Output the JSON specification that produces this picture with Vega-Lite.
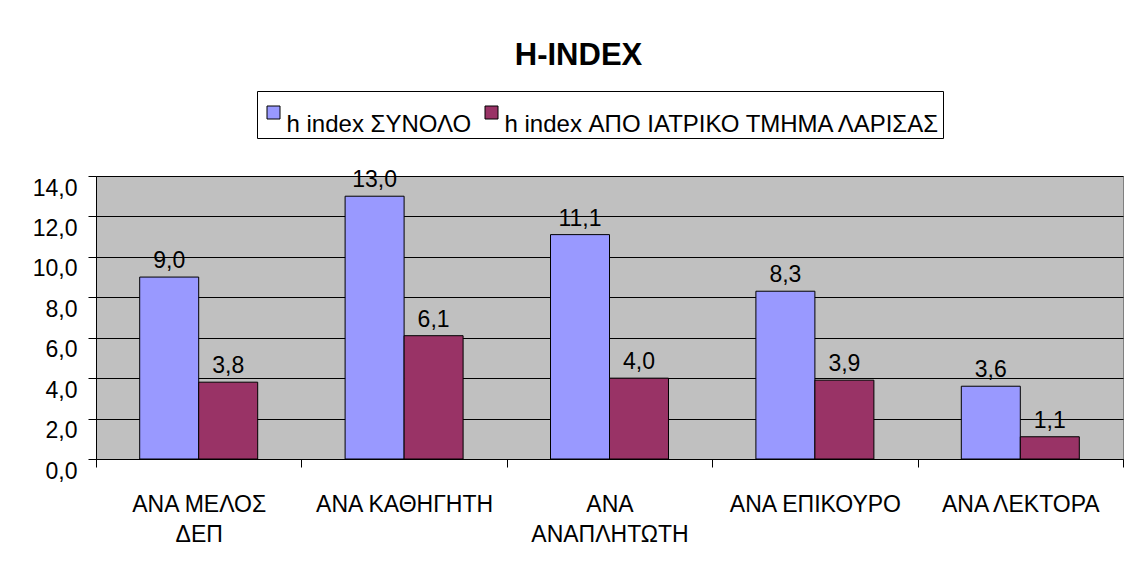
{
  "$schema": "https://vega.github.io/schema/vega-lite/v6.json",
  "width": 1027,
  "height": 283,
  "autosize": "none",
  "padding": {"left": 96, "top": 176, "right": 6, "bottom": 102},
  "background": "white",
  "config": {
    "locale": {"number": {"decimal": ",", "thousands": ".", "grouping": [3], "currency": ["", " €"]}},
    "font": "Liberation Sans",
    "view": {"fill": "#C0C0C0", "stroke": "#808080", "strokeWidth": 1}
  },
  "title": {
    "text": "H-INDEX",
    "fontSize": 31,
    "fontWeight": "bold",
    "font": "Liberation Sans",
    "color": "black",
    "anchor": "middle",
    "dx": -31,
    "dy": 23,
    "baseline": "alphabetic",
    "offset": 18
  },
  "data": {
    "values": [
      {"category": "ΑΝΑ ΜΕΛΟΣ ΔΕΠ", "series": "h index ΣΥΝΟΛΟ", "value": 9.0},
      {"category": "ΑΝΑ ΜΕΛΟΣ ΔΕΠ", "series": "h index ΑΠΟ ΙΑΤΡΙΚΟ ΤΜΗΜΑ ΛΑΡΙΣΑΣ", "value": 3.8},
      {"category": "ΑΝΑ ΚΑΘΗΓΗΤΗ", "series": "h index ΣΥΝΟΛΟ", "value": 13.0},
      {"category": "ΑΝΑ ΚΑΘΗΓΗΤΗ", "series": "h index ΑΠΟ ΙΑΤΡΙΚΟ ΤΜΗΜΑ ΛΑΡΙΣΑΣ", "value": 6.1},
      {"category": "ΑΝΑ ΑΝΑΠΛΗΤΩΤΗ", "series": "h index ΣΥΝΟΛΟ", "value": 11.1},
      {"category": "ΑΝΑ ΑΝΑΠΛΗΤΩΤΗ", "series": "h index ΑΠΟ ΙΑΤΡΙΚΟ ΤΜΗΜΑ ΛΑΡΙΣΑΣ", "value": 4.0},
      {"category": "ΑΝΑ ΕΠΙΚΟΥΡΟ", "series": "h index ΣΥΝΟΛΟ", "value": 8.3},
      {"category": "ΑΝΑ ΕΠΙΚΟΥΡΟ", "series": "h index ΑΠΟ ΙΑΤΡΙΚΟ ΤΜΗΜΑ ΛΑΡΙΣΑΣ", "value": 3.9},
      {"category": "ΑΝΑ ΛΕΚΤΟΡΑ", "series": "h index ΣΥΝΟΛΟ", "value": 3.6},
      {"category": "ΑΝΑ ΛΕΚΤΟΡΑ", "series": "h index ΑΠΟ ΙΑΤΡΙΚΟ ΤΜΗΜΑ ΛΑΡΙΣΑΣ", "value": 1.1}
    ]
  },
  "encoding": {
    "x": {
      "field": "category",
      "type": "nominal",
      "sort": null,
      "scale": {"paddingInner": 0, "paddingOuter": 0},
      "axis": {
        "title": null,
        "labelAngle": 0,
        "labelFont": "Liberation Sans",
        "labelFontSize": 23,
        "labelColor": "black",
        "labelBaseline": "top",
        "labelPadding": 26,
        "labelLineHeight": 30,
        "labelLimit": 0,
        "labelExpr": "datum.label == 'ΑΝΑ ΜΕΛΟΣ ΔΕΠ' ? ['ΑΝΑ ΜΕΛΟΣ', 'ΔΕΠ'] : datum.label == 'ΑΝΑ ΑΝΑΠΛΗΤΩΤΗ' ? ['ΑΝΑ', 'ΑΝΑΠΛΗΤΩΤΗ'] : datum.label",
        "tickBand": "extent",
        "tickSize": 8,
        "tickColor": "black",
        "domainColor": "black",
        "grid": false
      }
    },
    "xOffset": {
      "field": "series",
      "sort": ["h index ΣΥΝΟΛΟ", "h index ΑΠΟ ΙΑΤΡΙΚΟ ΤΜΗΜΑ ΛΑΡΙΣΑΣ"],
      "scale": {"paddingInner": 0, "paddingOuter": 0.7407}
    },
    "y": {
      "field": "value",
      "type": "quantitative",
      "scale": {"domain": [0, 14], "nice": false},
      "axis": {
        "title": null,
        "values": [0, 2, 4, 6, 8, 10, 12, 14],
        "format": ".1f",
        "labelFont": "Liberation Sans",
        "labelFontSize": 23,
        "labelColor": "black",
        "labelBaseline": "top",
        "labelOffset": 1,
        "labelPadding": 11,
        "labelFlush": false,
        "tickSize": 8,
        "tickColor": "black",
        "domainColor": "black",
        "grid": true,
        "gridColor": "black",
        "gridOpacity": 1,
        "gridWidth": 1
      }
    }
  },
  "layer": [
    {
      "mark": {"type": "bar", "stroke": "black", "strokeWidth": 1},
      "encoding": {
        "color": {
          "field": "series",
          "type": "nominal",
          "scale": {
            "domain": ["h index ΣΥΝΟΛΟ", "h index ΑΠΟ ΙΑΤΡΙΚΟ ΤΜΗΜΑ ΛΑΡΙΣΑΣ"],
            "range": ["#9999FF", "#993366"]
          },
          "legend": {
            "orient": "none",
            "legendX": 161,
            "legendY": -85,
            "direction": "horizontal",
            "title": null,
            "symbolType": "square",
            "symbolSize": 169,
            "symbolStrokeColor": "black",
            "symbolStrokeWidth": 1,
            "symbolOpacity": 1,
            "symbolOffset": 3,
            "clipHeight": 40,
            "labelFont": "Liberation Sans",
            "labelFontSize": 24,
            "labelColor": "black",
            "labelLimit": 0,
            "labelOffset": 1,
            "labelBaseline": "top",
            "columnPadding": 5,
            "padding": 1.5,
            "strokeColor": "black",
            "fillColor": "white",
            "cornerRadius": 0
          }
        }
      }
    },
    {
      "mark": {"type": "text", "baseline": "alphabetic", "dy": -9, "fontSize": 23, "color": "black", "font": "Liberation Sans"},
      "encoding": {
        "text": {"field": "value", "type": "quantitative", "format": ".1f"}
      }
    }
  ]
}
